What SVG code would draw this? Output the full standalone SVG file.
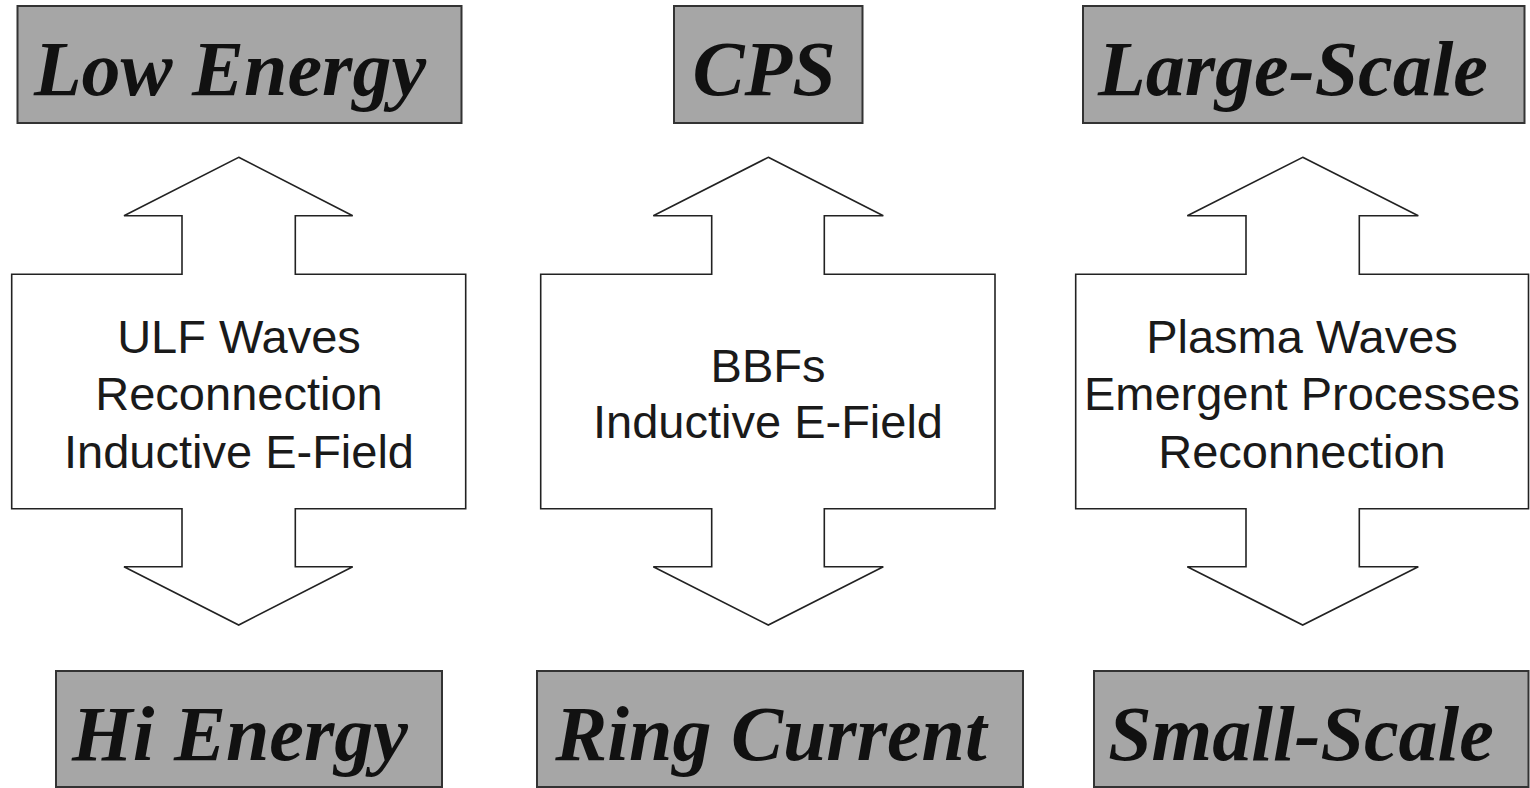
<svg xmlns="http://www.w3.org/2000/svg" width="1530" height="788" viewBox="0 0 1530 788">
<style>
.box{fill:#a6a6a6;stroke:#333;stroke-width:2}
.title{font-family:"Liberation Serif","Times New Roman",serif;font-weight:bold;font-style:italic;font-size:78px;fill:#111;text-anchor:middle}
.arrow{fill:#fff;stroke:#222;stroke-width:1.6;stroke-linejoin:miter}
.lbl{font-family:"Liberation Sans",Arial,sans-serif;font-size:47px;fill:#1a1a1a;text-anchor:middle}
</style>
<rect width="1530" height="788" fill="#fff"/>
<g id="low-energy"><rect class="box" x="17.5" y="6" width="444" height="117"/><text class="title" x="230" y="95">Low Energy</text></g>
<g id="cps"><rect class="box" x="674" y="6" width="188.5" height="117"/><text class="title" x="764" y="95">CPS</text></g>
<g id="large-scale"><rect class="box" x="1083" y="6" width="441.5" height="117"/><text class="title" x="1293" y="95">Large-Scale</text></g>
<g id="hi-energy"><rect class="box" x="56" y="671" width="386" height="116"/><text class="title" x="240" y="760">Hi Energy</text></g>
<g id="ring-current"><rect class="box" x="537" y="671" width="486" height="116"/><text class="title" x="771" y="760">Ring Current</text></g>
<g id="small-scale"><rect class="box" x="1094" y="671" width="434.5" height="116"/><text class="title" x="1301" y="760">Small-Scale</text></g>
<g id="connectors">
<g id="arrow-left">
<path class="arrow" d="M238.7,157.3 L352.7,215.7 L295.3,215.7 L295.3,274.3 L465.7,274.3 L465.7,508.7 L295.3,508.7 L295.3,566.7 L352.7,566.7 L238.7,625 L124,566.7 L182,566.7 L182,508.7 L11.7,508.7 L11.7,274.3 L182,274.3 L182,215.7 L124,215.7 Z"/>
<text class="lbl" x="239" y="353">ULF Waves</text>
<text class="lbl" x="239" y="409.5">Reconnection</text>
<text class="lbl" x="239" y="468">Inductive E-Field</text>
</g>
<g id="arrow-middle">
<path class="arrow" d="M768.3,157.3 L883.3,215.7 L824.3,215.7 L824.3,274.3 L995,274.3 L995,508.7 L824.3,508.7 L824.3,566.7 L883.3,566.7 L768.3,625 L653.3,566.7 L711.7,566.7 L711.7,508.7 L540.7,508.7 L540.7,274.3 L711.7,274.3 L711.7,215.7 L653.3,215.7 Z"/>
<text class="lbl" x="768" y="381.5">BBFs</text>
<text class="lbl" x="768" y="437.5">Inductive E-Field</text>
</g>
<g id="arrow-right">
<path class="arrow" d="M1302.7,157.3 L1418.3,215.7 L1359.3,215.7 L1359.3,274.3 L1528.5,274.3 L1528.5,508.7 L1359.3,508.7 L1359.3,566.7 L1418.3,566.7 L1302.7,625 L1187.3,566.7 L1246,566.7 L1246,508.7 L1075.7,508.7 L1075.7,274.3 L1246,274.3 L1246,215.7 L1187.3,215.7 Z"/>
<text class="lbl" x="1302" y="353">Plasma Waves</text>
<text class="lbl" x="1302" y="409.5">Emergent Processes</text>
<text class="lbl" x="1302" y="468">Reconnection</text>
</g>
</g>
</svg>
